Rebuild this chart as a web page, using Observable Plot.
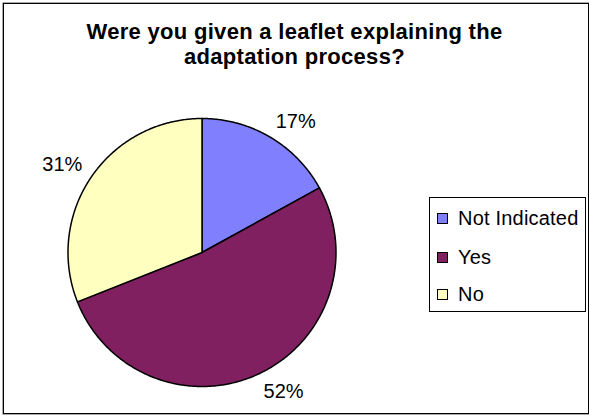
<!DOCTYPE html>
<html>
<head>
<meta charset="utf-8">
<script src="https://cdn.jsdelivr.net/npm/d3@7"></script>
<script src="https://cdn.jsdelivr.net/npm/@observablehq/plot@0.6"></script>
<style>
  html, body { margin: 0; padding: 0; background: #fff; }
  body { position: relative; width: 589px; height: 416px; overflow: hidden; font-family: "Liberation Sans", Arial, sans-serif; color: #000; }
  #frame { position: absolute; left: 3px; top: 3px; width: 584px; height: 409px; border: 1px solid #000; box-sizing: content-box; box-shadow: 0 0 0 0.5px #555; }
  #title { position: absolute; left: 0; top: 19px; width: 589px; text-align: center; font-weight: bold; font-size: 22px; line-height: 25px; letter-spacing: 0.3px; }
  #chart { position: absolute; left: 0; top: 80px; }
  #legend { position: absolute; left: 429px; top: 197px; width: 155px; height: 113px; border: 1px solid #000; background: #fff; }
  .item { position: absolute; left: 0; height: 24px; font-size: 20px; line-height: 24px; white-space: nowrap; letter-spacing: 0.2px; }
  .sw { position: absolute; left: 7px; top: 7px; width: 9px; height: 9px; border: 1px solid #000; }
  .lbl { position: absolute; left: 28px; top: 0; }
</style>
</head>
<body>
<div id="frame"></div>
<div id="title">Were you given a leaflet explaining the<br>adaptation process?</div>
<div id="chart"></div>
<div id="legend"></div>
<script>
// ---- data ----
const categories = ["Not Indicated", "Yes", "No"];
const percents = [17, 52, 31];
const labels = ["17%", "52%", "31%"];
const colors = ["#8080FF", "#802060", "#FFFFC0"];

const rows = categories.map((name, i) => ({name, value: percents[i], label: labels[i]}));

// pie layout: start at 12 o'clock, clockwise, in unit-circle data space
const arcs = d3.pie().sort(null).value(d => d.value)(rows);
const pts = [];
for (const a of arcs) {
  pts.push({name: a.data.name, x: 0, y: 0});
  const n = Math.max(2, Math.ceil((a.endAngle - a.startAngle) / 0.01));
  for (let k = 0; k <= n; k++) {
    const t = a.startAngle + (a.endAngle - a.startAngle) * k / n;
    pts.push({name: a.data.name, x: Math.sin(t), y: Math.cos(t)});
  }
}
const lab = arcs.map(a => {
  const m = (a.startAngle + a.endAngle) / 2;
  return {label: a.data.label, x: 1.08 * Math.sin(m), y: 1.08 * Math.cos(m), right: Math.sin(m) >= 0, top: Math.cos(m) >= 0};
});

const textMark = (right, top) => Plot.text(lab.filter(d => d.right === right && d.top === top), {
  x: "x", y: "y", text: "label",
  textAnchor: right ? "start" : "end",
  lineAnchor: top ? "bottom" : "top",
  fontSize: 20, fill: "#000"
});

const plot = Plot.plot({
  width: 589,
  height: 333,
  margin: 0,
  style: {fontFamily: "Liberation Sans, Arial, sans-serif", background: "transparent", overflow: "visible"},
  x: {domain: [-1, 1], range: [67.5, 335.5], axis: null},
  y: {domain: [-1, 1], range: [306, 38], axis: null},
  color: {domain: categories, range: colors},
  marks: [
    Plot.line(pts, {x: "x", y: "y", z: "name", fill: "name", stroke: "#000", strokeWidth: 1.5, curve: "linear-closed", strokeLinejoin: "round"}),
    textMark(true, true), textMark(true, false), textMark(false, true), textMark(false, false)
  ]
});
document.getElementById("chart").appendChild(plot);

// legend
const leg = document.getElementById("legend");
const rowTops = [8, 47, 84];
categories.forEach((c, i) => {
  const it = document.createElement("div");
  it.className = "item";
  it.style.top = rowTops[i] + "px";
  const sw = document.createElement("div");
  sw.className = "sw";
  sw.style.background = plot.scale("color").apply(c);
  const tx = document.createElement("div");
  tx.className = "lbl";
  tx.textContent = c;
  it.appendChild(sw); it.appendChild(tx);
  leg.appendChild(it);
});
</script>
</body>
</html>
